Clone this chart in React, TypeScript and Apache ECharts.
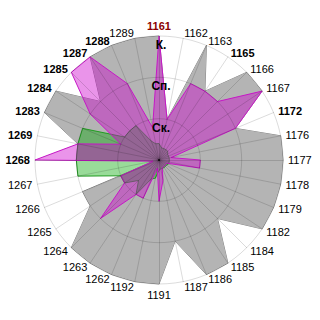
import React, { useEffect, useRef } from 'react';
import * as echarts from 'echarts';

// Categories, clockwise from the top
const categories = [
  '1161', '1162', '1163', '1165', '1166', '1167', '1172', '1176',
  '1177', '1178', '1179', '1182', '1184', '1185', '1186', '1187',
  '1191', '1192', '1262', '1263', '1264', '1265', '1266', '1267',
  '1268', '1269', '1283', '1284', '1285', '1287', '1288', '1289',
];
const boldCategories = ['1165', '1172', '1268', '1269', '1283', '1284', '1285', '1287', '1288'];
const highlightCategory = '1161';

// Radial level labels (1, 2, 3)
const levelLabels = ['Ск.', 'Сп.', 'К.'];
const levelMax = 3;

const grayValues = [
  3, 1, 3, 2, 3, 3, 2, 3,
  3, 3, 3, 3, 2, 3, 3, 2,
  3, 3, 3, 3, 3, 2, 2, 0.1,
  2, 2, 3, 3, 2, 3, 3, 3,
];
const magentaValues = [
  3, 1, 2, 2, 2, 3, 2, 0.3,
  1, 1, 0.2, 0.2, 0.2, 0.2, 0.2, 0.5,
  1, 0.2, 1, 1, 2, 1, 1, 0.15,
  3, 2, 1, 2, 3, 3, 2, 0.8,
];
const greenValues = [
  0.4, 0.3, 0.3, 0.3, 0.3, 0.25, 0.25, 0.25,
  0.25, 0.25, 0.25, 0.22, 0.22, 0.22, 0.22, 0.22,
  0.25, 0.45, 0.5, 1, 0.7, 1, 1, 2,
  2, 2, 2, 1, 1, 1, 0.5, 0.4,
];

export default function App() {
  const ref = useRef<HTMLDivElement>(null);
  useEffect(() => {
    if (!ref.current) return;
    const chart = echarts.init(ref.current, null, { renderer: 'svg' });
    const n = categories.length;
    // ECharts radar runs counter-clockwise; reorder so the chart reads clockwise
    const order = [0];
    for (let k = n - 1; k >= 1; k--) order.push(k);
    const pick = (arr: number[]) => order.map((i) => arr[i]);
    const cx = 159;
    const cy = 160;
    const R = 124;
    const font = '"Liberation Sans Narrow", "Liberation Sans", Arial, sans-serif';

    const option = {
      animation: false,
      radar: {
        z: 10,
        center: [cx, cy],
        radius: R,
        startAngle: 90,
        shape: 'circle',
        splitNumber: 3,
        nameGap: 5,
        indicator: order.map((i) => ({ name: categories[i], min: 0, max: levelMax })),
        axisName: {
          color: '#000',
          fontSize: 11,
          fontFamily: font,
          formatter: (name: string) =>
            name === highlightCategory
              ? `{r|${name}}`
              : boldCategories.includes(name)
              ? `{b|${name}}`
              : name,
          rich: {
            b: { fontWeight: 'bold', fontSize: 11, fontFamily: font, color: '#000' },
            r: { fontWeight: 'bold', fontSize: 11, fontFamily: font, color: '#8b0000' },
          },
        },
        splitLine: { lineStyle: { color: 'rgba(0,0,0,0.14)', width: 1 } },
        axisLine: { lineStyle: { color: 'rgba(0,0,0,0.14)', width: 1 } },
        splitArea: { show: false },
        axisTick: { show: false },
        axisLabel: { show: false },
      },
      graphic: levelLabels.map((t, k) => ({
        type: 'text',
        z: 20,
        x: cx + 2,
        y: cy - (R * (k + 1)) / levelMax + 9,
        style: {
          text: t,
          fontSize: 12,
          fontWeight: 'bold',
          fontFamily: 'Liberation Sans, Arial, sans-serif',
          fill: '#000',
          align: 'center',
          verticalAlign: 'middle',
        },
      })),
      series: [
        {
          type: 'radar',
          symbol: 'none',
          lineStyle: { color: '#858585', width: 1 },
          areaStyle: { color: '#b4b4b4', opacity: 1 },
          data: [{ value: pick(grayValues), name: 'gray' }],
        },
        {
          type: 'radar',
          symbol: 'none',
          lineStyle: { color: '#2f9a2f', width: 1 },
          areaStyle: { color: 'rgba(0,165,0,0.4)', opacity: 1 },
          data: [{ value: pick(greenValues), name: 'green' }],
        },
        {
          type: 'radar',
          symbol: 'none',
          lineStyle: { color: '#c41fc4', width: 1 },
          areaStyle: { color: 'rgba(204,0,204,0.42)', opacity: 1 },
          data: [{ value: pick(magentaValues), name: 'magenta' }],
        },
      ],
    };
    chart.setOption(option as any);
    return () => chart.dispose();
  }, []);
  return (
    <div
      ref={ref}
      style={{ position: 'absolute', left: 0, top: 0, width: 320, height: 320, background: '#fff' }}
    />
  );
}
